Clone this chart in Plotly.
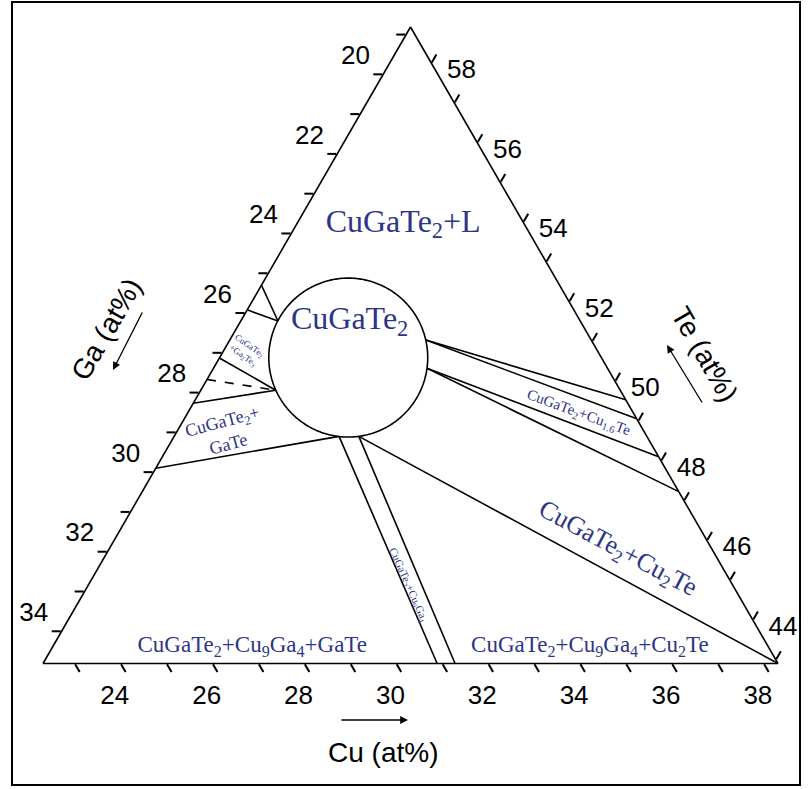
import numpy as np
import plotly.graph_objects as go

# ---------------- data (compositions in at%) ----------------
CU_MIN, GA_MIN, TE_MIN = 22.3, 18.8, 42.9
TOTAL = 100

cu_ticks = list(range(23, 39))
ga_ticks = list(range(19, 35))
te_ticks = list(range(43, 59))

# single-phase CuGaTe2 field (circle): centre (Cu, Ga, Te) and radius (at%)
circle_center = (25.10, 24.31, 50.59)
circle_radius = 1.73

# phase-boundary / tie lines: [(Cu, Ga, Te) start, (Cu, Ga, Te) end]
solid_lines = [
    [(22.30, 25.29, 52.41), (23.11, 25.38, 51.51)],
    [(22.30, 25.91, 51.79), (23.11, 25.38, 51.51)],
    [(22.30, 27.12, 50.58), (23.93, 26.30, 49.77)],
    [(22.30, 28.26, 49.44), (23.93, 26.30, 49.77)],
    [(22.30, 29.89, 47.81), (25.89, 25.50, 48.61)],
    [(25.89, 25.50, 48.61), (30.88, 26.22, 42.90)],
    [(26.32, 25.07, 48.61), (31.27, 25.83, 42.90)],
    [(26.32, 25.07, 48.61), (38.30, 18.80, 42.90)],
    [(26.57, 22.40, 51.03), (31.67, 18.80, 49.53)],
    [(26.57, 22.40, 51.03), (32.15, 18.80, 49.05)],
    [(26.95, 22.73, 50.32), (33.10, 18.80, 48.10)],
    [(26.95, 22.73, 50.32), (33.98, 18.80, 47.22)],
]
dashed_lines = [
    [(22.30, 27.66, 50.04), (23.93, 26.30, 49.77)],
]

# horizontal phase-field labels: text and (Cu, Ga, Te)
field_labels = ["CuGaTe<sub>2</sub>+L", "CuGaTe<sub>2</sub>",
                "CuGaTe<sub>2</sub>+Cu<sub>9</sub>Ga<sub>4</sub>+GaTe",
                "CuGaTe<sub>2</sub>+Cu<sub>9</sub>Ga<sub>4</sub>+Cu<sub>2</sub>Te"]
field_cu = [24.61, 24.67, 26.64, 33.99]
field_ga = [21.43, 23.82, 30.03, 22.68]
field_te = [53.96, 51.51, 43.33, 43.33]
field_size = [32, 32, 23, 23]

# ---------------- figure ----------------
W, H = 809, 789
TRI_W = 735.0
BLUE = "#2E3588"
SERIF = "Liberation Serif, Times New Roman, serif"
SANS = "Liberation Sans, Arial, sans-serif"
NB = "\u00a0"

fig = go.Figure()

# circle
th = np.linspace(0, 2 * np.pi, 361)
dx = circle_radius * np.cos(th)
dy = circle_radius * np.sin(th)
dte = dy * 2 / np.sqrt(3)
dcu = dx - dte / 2
dga = -dx - dte / 2
fig.add_trace(go.Scatterternary(
    a=circle_center[2] + dte, b=circle_center[1] + dga, c=circle_center[0] + dcu,
    mode="lines", line=dict(color="black", width=1.6), hoverinfo="skip"))

for seg in solid_lines:
    fig.add_trace(go.Scatterternary(
        a=[p[2] for p in seg], b=[p[1] for p in seg], c=[p[0] for p in seg],
        mode="lines", line=dict(color="black", width=1.6), hoverinfo="skip"))
for seg in dashed_lines:
    fig.add_trace(go.Scatterternary(
        a=[p[2] for p in seg], b=[p[1] for p in seg], c=[p[0] for p in seg],
        mode="lines", line=dict(color="black", width=1.6, dash="dash"), hoverinfo="skip"))

for t, cu, ga, te, s in zip(field_labels, field_cu, field_ga, field_te, field_size):
    fig.add_trace(go.Scatterternary(
        a=[te], b=[ga], c=[cu], mode="text", text=[t], cliponaxis=False,
        textfont=dict(family=SERIF, size=s, color=BLUE), hoverinfo="skip"))

# tick label text (the reference puts Ga labels up-left of their ticks,
# Te labels straight right of theirs, Cu labels slightly left of theirs)
ga_text = [f"{g}<br>{NB}" if g % 2 == 0 else "" for g in ga_ticks]
cu_text = [f"{c}{NB * 3}" if c % 2 == 0 else "" for c in cu_ticks]
te_text = [f"{NB}<br>{NB}{t}" if t % 2 == 0 else "" for t in te_ticks]


def axis(minval, vals, text):
    return dict(
        min=minval, tickmode="array", tickvals=vals, ticktext=text,
        ticks="outside", ticklen=9, tickwidth=1.5, tickcolor="black",
        showgrid=False, showline=True, linecolor="black", linewidth=1.6,
        tickfont=dict(family=SANS, size=26, color="black"),
        title=dict(text=""))


fig.update_layout(
    width=W, height=H, margin=dict(l=0, r=0, t=0, b=0),
    paper_bgcolor="white", plot_bgcolor="white", showlegend=False,
    ternary=dict(
        sum=TOTAL, bgcolor="white",
        domain=dict(x=[43 / W, (43 + TRI_W) / W], y=[(H - 663.5) / H, (H - 27) / H]),
        aaxis=axis(TE_MIN, [TOTAL - CU_MIN - g for g in ga_ticks], ga_text),
        baxis=axis(GA_MIN, [TOTAL - TE_MIN - c for c in cu_ticks], cu_text),
        caxis=axis(CU_MIN, [TOTAL - GA_MIN - t for t in te_ticks], te_text),
    ),
)


def P(x, y):
    return x / W, 1 - y / H


anns = []
# rotated phase-field labels
rot_labels = [
    ("CuGaTe<sub>2</sub>+Cu<sub>2</sub>Te", 617, 549, 28, 26),
    ("CuGaTe<sub>2</sub>+Cu<sub>1.6</sub>Te", 578, 413, 20, 15),
    ("CuGaTe<sub>2</sub>+Cu<sub>9</sub>Ga<sub>4</sub>", 408, 585, 66, 11),
    ("CuGaTe<sub>2</sub><br>+Ga<sub>2</sub>Te<sub>3</sub>", 245, 351, 35, 9),
    ("CuGaTe<sub>2</sub>+<br>GaTe", 225, 432, -15, 18),
]
for t, x, y, ang, s in rot_labels:
    px, py = P(x, y)
    anns.append(dict(text=t, x=px, y=py, xref="paper", yref="paper", showarrow=False,
                     textangle=ang, font=dict(family=SERIF, size=s, color=BLUE),
                     xanchor="center", yanchor="middle"))

# axis titles
titles = [("Ga (at%)", 106, 329, -60), ("Te (at%)", 705, 354, 60), ("Cu (at%)", 383, 752, 0)]
for t, x, y, ang in titles:
    px, py = P(x, y)
    anns.append(dict(text=t, x=px, y=py, xref="paper", yref="paper", showarrow=False,
                     textangle=ang, font=dict(family=SANS, size=28, color="black"),
                     xanchor="center", yanchor="middle"))

# arrows next to titles
arrows = [(113, 370, 30, -59), (667, 345, 36, 59), (408, 720, -68, 0)]
for x, y, ax, ay in arrows:
    px, py = P(x, y)
    anns.append(dict(text="", x=px, y=py, xref="paper", yref="paper", showarrow=True,
                     ax=ax, ay=ay, arrowhead=2, arrowsize=1.2, arrowwidth=1.3,
                     arrowcolor="black"))

fig.update_layout(annotations=anns)

# outer frame
fig.add_shape(type="rect", xref="paper", yref="paper",
              x0=12 / W, x1=800 / W, y0=1 - 785 / H, y1=1 - 2 / H,
              line=dict(color="black", width=2))

fig.write_html("out.html", config={"displayModeBar": False},
               post_script="document.body.style.margin='0px';document.body.style.overflow='hidden';")
